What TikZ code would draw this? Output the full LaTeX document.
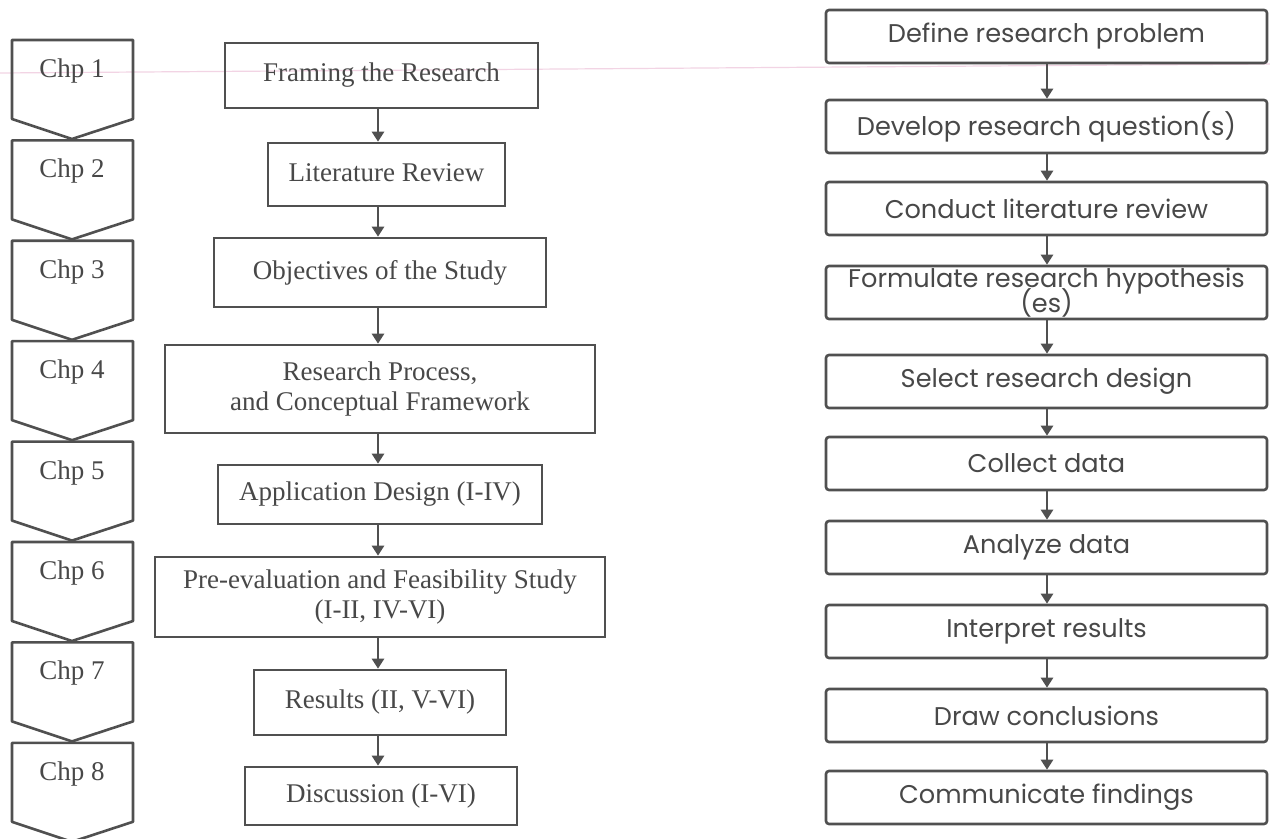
\documentclass[tikz,border=0pt]{standalone}
\usepackage{fontspec}
\setmainfont{Liberation Serif}
\newfontfamily\popfont{Poppins}
\usetikzlibrary{arrows.meta}
\definecolor{ink}{HTML}{505050}
\definecolor{txt}{HTML}{484848}
\definecolor{scanpink}{HTML}{F2D4E4}
\newcommand\tightlines{\lineskiplimit=-20pt\relax\lineskip=0pt\relax}
\begin{document}
\begin{tikzpicture}[x=0.5pt,y=-0.5pt,
  chev/.style={draw=ink, line width=1.3pt, line join=round},
  chtext/.style={text=txt, font=\fontsize{13.5}{15}\selectfont, inner sep=0pt},
  mbox/.style={draw=ink, line width=1.3pt, rectangle, inner sep=0pt, text=txt,
    font=\fontsize{13.5}{15}\selectfont, align=center},
  rbox/.style={draw=ink, line width=1.3pt, rounded corners=1.5pt, rectangle, inner sep=0pt,
    text=txt, font=\popfont\fontsize{12.8}{12.5}\selectfont\tightlines, align=center,
    minimum width=220.5pt, minimum height=26.5pt},
  arr/.style={draw=ink, line width=1.3pt, -{Triangle[width=6pt,length=5pt]}},
]
\useasboundingbox (0,0) rectangle (1270,839);
\fill[white] (0,0) rectangle (1270,839);
\draw[scanpink, line width=0.6pt] (0,73) -- (1270,64);

% chevrons
\foreach \i in {1,...,8}{
  \pgfmathsetmacro{\yo}{40+100.4*(\i-1)}
  \draw[chev] (12,\yo) -- (133,\yo) -- (133,\yo+79) -- (72,\yo+99) -- (12,\yo+79) -- cycle;
  \node[chtext] (c\i) at (72,\yo+31) {Chp \i};
}

% middle column
\coordinate (ax) at (378,0);
\node[mbox, minimum width=156.5pt, minimum height=32.5pt] (m1) at (381.5,75.5) {\raisebox{2pt}{Framing the Research}};
\node[mbox, minimum width=118.5pt, minimum height=31.5pt] (m2) at (386.5,174.5) {\raisebox{2pt}{Literature Review}};
\node[mbox, minimum width=166pt, minimum height=34.5pt] (m3) at (380,272.5) {\raisebox{2pt}{Objectives of the Study}};
\node[mbox, minimum width=215pt, minimum height=44pt] (m4) at (380,389) {Research Process,\\and Conceptual Framework};
\node[mbox, minimum width=162pt, minimum height=29.5pt] (m5) at (380,494.5) {\raisebox{1pt}{Application Design (I-IV)}};
\node[mbox, minimum width=225pt, minimum height=40pt] (m6) at (380,597) {Pre-evaluation and Feasibility Study\\(I-II, IV-VI)};
\node[mbox, minimum width=126pt, minimum height=32.5pt] (m7) at (380,702.5) {\raisebox{2pt}{Results (II, V-VI)}};
\node[mbox, minimum width=136pt, minimum height=29pt] (m8) at (381,796) {\raisebox{1pt}{Discussion (I-VI)}};
\foreach \a/\b in {m1/m2,m2/m3,m3/m4,m4/m5,m5/m6,m6/m7,m7/m8}{
  \draw[arr] (\a.south -| ax) -- (\b.north -| ax);
}

% right column
\coordinate (rx) at (1047,0);
\node[rbox] (r1) at (1046.5,36.5) {\raisebox{-2pt}{Define research problem}};
\node[rbox] (r2) at (1046.5,126.5) {Develop research question(s)};
\node[rbox] (r3) at (1046.5,208.5) {Conduct literature review};
\node[rbox] (r4) at (1046.5,292.5) {\tightlines Formulate research hypothesis\\(es)};
\node[rbox] (r5) at (1046.5,381.5) {Select research design};
\node[rbox] (r6) at (1046.5,463.5) {Collect data};
\node[rbox] (r7) at (1046.5,547.5) {Analyze data};
\node[rbox] (r8) at (1046.5,631.5) {Interpret results};
\node[rbox] (r9) at (1046.5,715.5) {Draw conclusions};
\node[rbox] (r10) at (1046.5,797.5) {Communicate findings};
\foreach \a/\b in {r1/r2,r2/r3,r3/r4,r4/r5,r5/r6,r6/r7,r7/r8,r8/r9,r9/r10}{
  \draw[arr] (\a.south -| rx) -- (\b.north -| rx);
}
\end{tikzpicture}
\end{document}
